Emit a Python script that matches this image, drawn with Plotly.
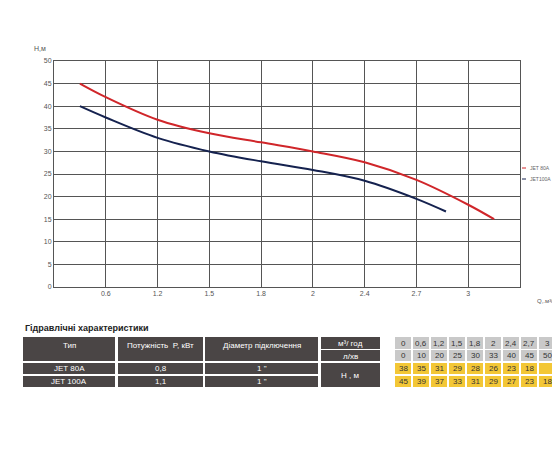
import plotly.graph_objects as go

# Curve data (x in axis index units, 1 => 0.6, 2 => 1.2 ...)
red_x = [0.5, 1, 2, 3, 4, 5, 6, 7, 8, 8.5]
red_y = [45, 42, 37, 34, 32, 30, 27.6, 23.7, 18.2, 15]
blue_x = [0.5, 1, 2, 3, 4, 5, 6, 7, 7.57]
blue_y = [40, 37.5, 33, 30, 27.8, 25.9, 23.5, 19.5, 16.7]
x_tick_labels = ["0.6", "1.2", "1.5", "1.8", "2", "2.4", "2.7", "3"]

# Table data
table_title = "Гідравлічні характеристики"
pump_types = ["JET 80A", "JET 100A"]
powers = ["0,8", "1,1"]
diameters = ["1 \"", "1 \""]
flow_m3 = ["0", "0,6", "1,2", "1,5", "1,8", "2", "2,4", "2,7", "3"]
flow_lmin = ["0", "10", "20", "25", "30", "33", "40", "45", "50"]
head_80 = ["38", "35", "31", "29", "28", "26", "23", "18", ""]
head_100 = ["45", "39", "37", "33", "31", "29", "27", "23", "18"]

L, R, T, B = 46, 512, 53, 279
def px(x): return (x - L) / (R - L)
def py(y): return (B - y) / (B - T)

fig = go.Figure()
fig.add_trace(go.Scatter(x=red_x, y=red_y, mode="lines", name="JET 80A",
                         line=dict(color="#d0262a", width=2, shape="spline"), showlegend=False))
fig.add_trace(go.Scatter(x=blue_x, y=blue_y, mode="lines", name="JET100A",
                         line=dict(color="#15224f", width=2, shape="spline"), showlegend=False))

shapes, ann = [], []

def rect(x0, y0, x1, y1, color):
    shapes.append(dict(type="rect", xref="paper", yref="paper", x0=px(x0), x1=px(x1),
                       y0=py(y1), y1=py(y0), fillcolor=color, line=dict(width=0), layer="above"))

def text(x, y, s, size=8, color="#444", anchor="center", bold=False):
    ann.append(dict(xref="paper", yref="paper", x=px(x), y=py(y), text=("<b>%s</b>" % s) if bold else s,
                    showarrow=False, xanchor=anchor, yanchor="middle",
                    font=dict(family="Liberation Sans", size=size, color=color)))

# axis labels and legend
text(32, 41, "H,м", 7, "#555")
text(527, 293, "Q,.м³/год.", 6, "#555", "left")
shapes.append(dict(type="line", xref="paper", yref="paper", x0=px(514), x1=px(518), y0=py(160), y1=py(160), line=dict(color="#d0262a", width=1)))
shapes.append(dict(type="line", xref="paper", yref="paper", x0=px(514), x1=px(518), y0=py(171), y1=py(171), line=dict(color="#15224f", width=1)))
text(520, 160, "JET 80A", 5, "#666", "left")
text(520, 171, "JET100A", 5, "#666", "left")

# table
text(15, 320, table_title, 9, "#222", "left", bold=True)
dark = "#4a4545"
cols = [(15, 107), (110, 195), (197, 310)]
heads = ["Тип", "Потужність  P, кВт", "Діаметр підключення"]
for (a, b), h in zip(cols, heads):
    rect(a, 329, b, 353, dark)
    text((a + b) / 2, 337, h, 8, "white")
rect(313, 329, 372, 341, dark); text(342, 335, "м³/ год", 8, "white")
rect(313, 342, 372, 353, dark); text(342, 348, "л/хв", 8, "white")
rect(313, 355, 372, 379, dark); text(342, 367, "Н , м", 8, "white")
rows = [(355, 366), (368, 379)]
for (y0, y1), t, p, d in zip(rows, pump_types, powers, diameters):
    for (a, b), s in zip(cols, [t, p, d]):
        rect(a, y0, b, y1, dark)
        text((a + b) / 2, (y0 + y1) / 2, s, 8, "white")
for i in range(9):
    cx = 395 + 18 * i
    for (y0, y1), vals, col in [((329, 341), flow_m3, "#c9c9c9"), ((342, 353), flow_lmin, "#c9c9c9"),
                                ((355, 366), head_80, "#f3c736"), ((368, 379), head_100, "#f3c736")]:
        rect(cx - 8, y0, cx + 8, y1, col)
        text(cx, (y0 + y1) / 2, vals[i], 8, "#333")

fig.update_layout(
    width=560, height=451, margin=dict(l=L, r=560 - R, t=T, b=451 - B),
    paper_bgcolor="white", plot_bgcolor="white",
    xaxis=dict(range=[0, 9], tickvals=list(range(1, 9)), ticktext=x_tick_labels,
               showgrid=True, gridcolor="#555", gridwidth=1, zeroline=False,
               showline=True, linecolor="#555", mirror=True, ticks="",
               tickfont=dict(family="Liberation Sans", size=7, color="#555")),
    yaxis=dict(range=[0, 50], dtick=5, showgrid=True, gridcolor="#555", gridwidth=1, zeroline=False,
               showline=True, linecolor="#555", mirror=True, ticks="",
               tickfont=dict(family="Liberation Sans", size=7, color="#555")),
    shapes=shapes, annotations=ann, showlegend=False,
)
fig.write_html("out.html")
